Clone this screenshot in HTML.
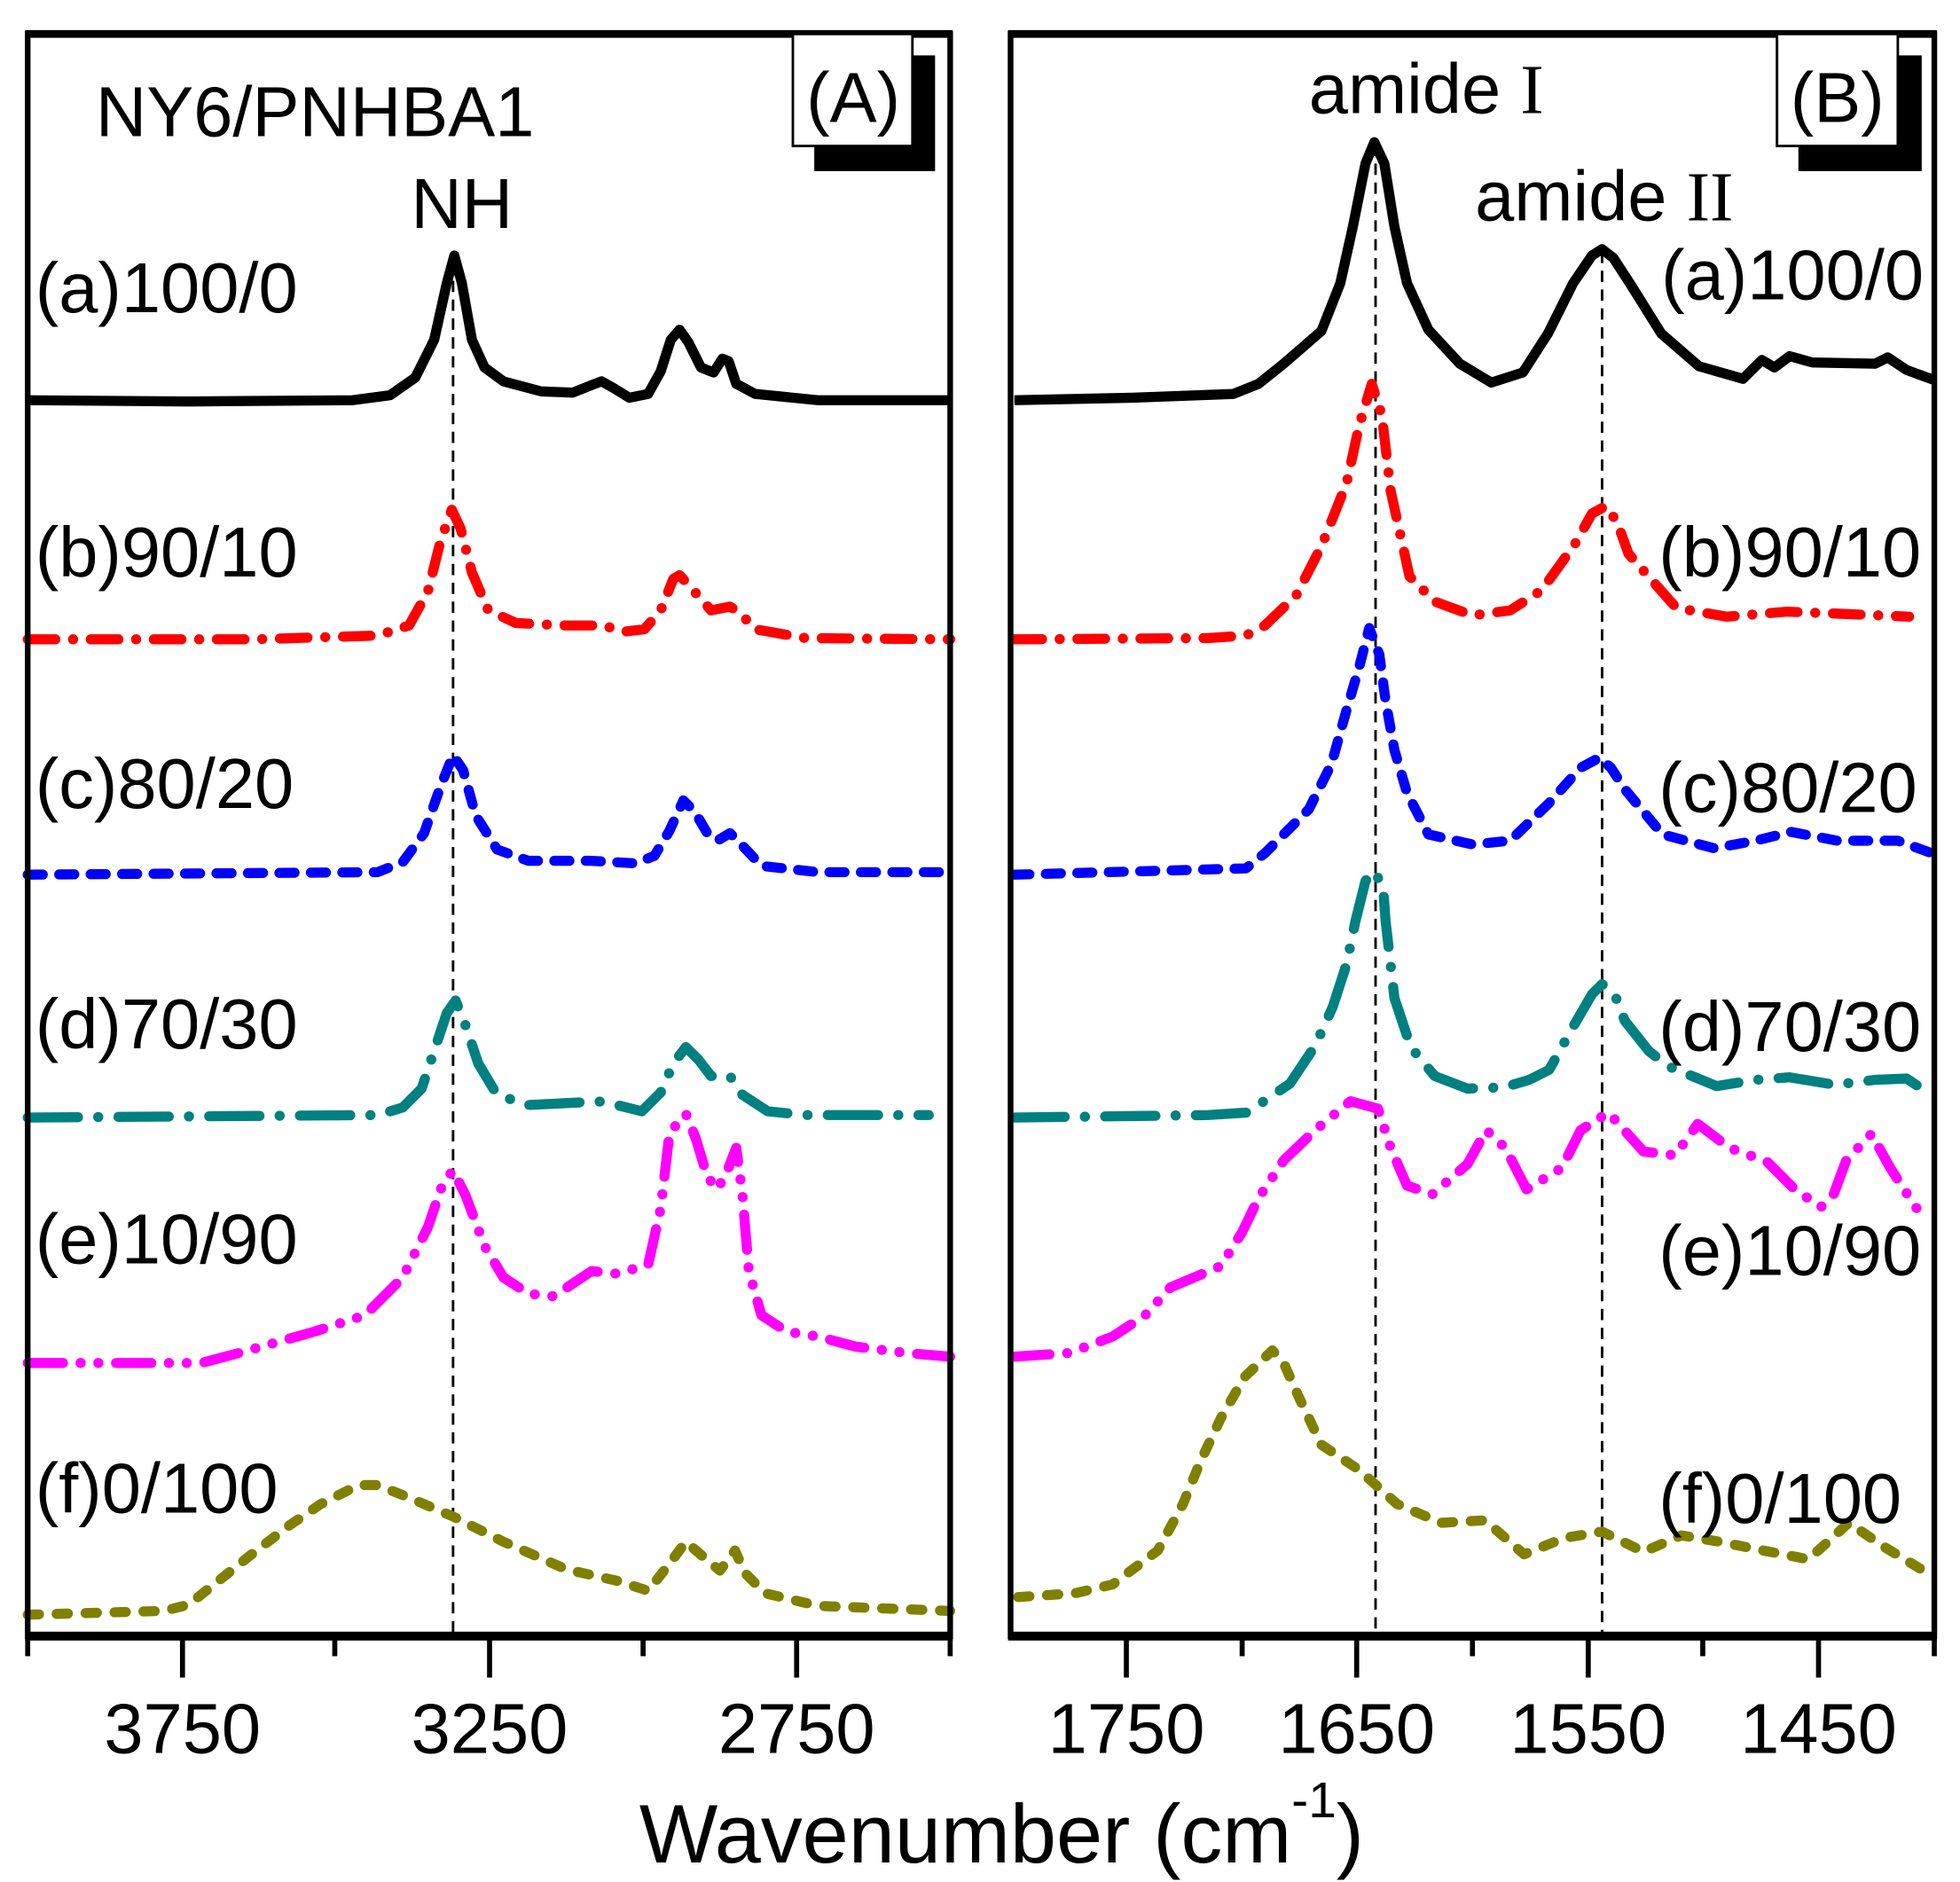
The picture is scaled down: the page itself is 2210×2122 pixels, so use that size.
<!DOCTYPE html>
<html><head><meta charset="utf-8"><style>
html,body{margin:0;padding:0;background:#fff;}
svg{display:block;}
text{font-family:"Liberation Sans",Arial,sans-serif;fill:#000;}
</style></head><body>
<svg width="2210" height="2122" viewBox="0 0 1557.4 1495.4" xmlns="http://www.w3.org/2000/svg">
<rect width="1557.4" height="1495.4" fill="#fff"/>
<g fill="none" stroke-linejoin="round" stroke-linecap="round">
<g stroke="#000" stroke-width="2" stroke-dasharray="9 6" stroke-linecap="butt">
<line x1="360" y1="208" x2="360" y2="1297"/>
<line x1="1093" y1="115" x2="1093" y2="1297"/>
<line x1="1273" y1="200" x2="1273" y2="1297"/>
</g>
<polyline stroke="#000" stroke-width="8" stroke-linecap="butt" points="22,318 150,319 280,318 310,314 330,300 345,270 355,225 361,203 367,225 375,270 385,292 400,303 430,311 455,312 470,306 478,303 487,308 500,316 515,313 525,295 533,270 540,262 547,272 557,292 567,296 574,285 579,287 585,305 600,313 650,318 755,318"/>
<polyline stroke="#ff0000" stroke-width="8" stroke-dasharray="22 14 0.1 14" points="22,508 200,508 300,505 325,497 340,470 350,430 359,405 366,420 375,455 388,485 410,495 450,497 480,497 495,502 512,500 525,485 535,460 540,457 550,468 565,485 580,482 588,487 600,500 640,507 755,508"/>
<polyline stroke="#0000ff" stroke-width="8" stroke-dasharray="12 13" points="22,695 300,693 320,685 337,662 350,625 360,600 368,612 378,648 395,675 420,684 470,684 505,686 520,680 532,660 543,636 552,645 562,662 570,668 580,662 590,672 605,688 650,693 755,693"/>
<polyline stroke="#008080" stroke-width="8" stroke-dasharray="40 16 0.1 16" points="22,888 300,886 320,880 335,865 345,835 355,805 362,795 370,815 380,845 395,870 420,878 460,876 475,875 490,878 510,883 525,868 535,845 545,832 555,842 565,855 580,855 590,870 610,883 640,886 738,886"/>
<polyline stroke="#ff00ff" stroke-width="8" stroke-dasharray="28 14 0.1 14 0.1 14" points="22,1083 160,1083 190,1075 250,1058 290,1045 320,1015 340,975 352,940 360,930 370,950 385,990 400,1015 420,1028 440,1030 455,1020 470,1010 490,1012 515,1005 525,960 532,900 545,885 553,905 562,935 570,945 578,930 585,912 590,950 595,1010 605,1045 625,1058 650,1062 680,1070 720,1075 755,1078"/>
<polyline stroke="#808000" stroke-width="8" stroke-dasharray="9 14" points="22,1283 130,1280 150,1275 175,1255 200,1235 230,1212 255,1195 285,1180 300,1180 325,1190 360,1205 400,1225 450,1247 490,1256 515,1264 530,1245 545,1225 560,1238 572,1248 584,1232 592,1250 608,1266 650,1276 755,1280"/>
<polyline stroke="#000" stroke-width="8" stroke-linecap="butt" points="806,318 900,316 980,313 1000,305 1020,289 1050,263 1065,225 1075,180 1085,130 1092,113 1100,130 1108,180 1118,225 1135,262 1160,289 1185,304 1210,296 1230,265 1250,225 1265,203 1273,198 1282,205 1295,225 1320,265 1350,291 1385,301 1400,286 1410,292 1422,283 1440,288 1490,289 1500,284 1515,294 1537,302"/>
<polyline stroke="#ff0000" stroke-width="8" stroke-dasharray="22 14 0.1 14" points="806,508 960,507 990,505 1005,497 1030,473 1050,434 1070,384 1080,338 1090,305 1098,330 1105,390 1120,458 1140,478 1170,489 1200,485 1225,469 1251,433 1265,408 1276,402 1285,415 1294,440 1332,483 1372,490 1420,486 1470,488 1517,490"/>
<polyline stroke="#0000ff" stroke-width="8" stroke-dasharray="12 13" points="806,695 990,690 1005,678 1040,643 1058,607 1070,564 1080,530 1088,499 1096,520 1101,557 1108,596 1118,630 1135,663 1170,671 1200,668 1231,638 1256,610 1271,602 1280,610 1291,627 1321,663 1362,674 1395,668 1423,661 1460,668 1508,668 1535,678"/>
<polyline stroke="#008080" stroke-width="8" stroke-dasharray="40 16 0.1 16" points="806,888 960,886 991,884 1025,861 1045,831 1059,800 1070,766 1077,732 1085,700 1092,692 1099,705 1101,732 1108,793 1121,832 1140,855 1166,865 1195,864 1215,858 1231,850 1251,814 1265,790 1273,782 1283,790 1291,811 1310,835 1325,847 1364,863 1395,858 1422,856 1458,862 1490,858 1515,857 1533,869"/>
<polyline stroke="#ff00ff" stroke-width="8" stroke-dasharray="28 14 0.1 14 0.1 14" points="806,1078 850,1075 884,1062 910,1045 930,1023 970,1006 987,979 1000,952 1020,922 1045,898 1073,875 1095,881 1105,912 1118,942 1138,949 1166,925 1181,898 1196,912 1213,945 1241,928 1256,898 1278,884 1306,915 1331,918 1349,893 1374,912 1404,923 1426,945 1447,959 1457,949 1467,922 1487,901 1502,928 1522,959 1530,968"/>
<polyline stroke="#808000" stroke-width="8" stroke-dasharray="9 14" points="809,1269 854,1266 884,1259 920,1232 940,1195 954,1161 970,1127 989,1094 1011,1073 1020,1083 1032,1110 1050,1148 1080,1168 1110,1195 1145,1210 1180,1208 1211,1235 1243,1222 1273,1217 1306,1233 1336,1220 1366,1225 1401,1232 1437,1239 1469,1210 1497,1229 1530,1249"/>
</g>
<g fill="none" stroke="#000">
<rect x="22" y="27" width="733" height="1273" stroke-width="4.5"/>
<rect x="803" y="27" width="734" height="1273" stroke-width="4.5"/>
<line x1="20" y1="1300" x2="757" y2="1300" stroke-width="7"/>
<line x1="801" y1="1300" x2="1539" y2="1300" stroke-width="7"/>
<line x1="20" y1="27" x2="757" y2="27" stroke-width="6"/>
<line x1="801" y1="27" x2="1539" y2="27" stroke-width="6"/>
<g stroke-width="4">
<line x1="22" y1="1300" x2="22" y2="1316"/><line x1="145" y1="1300" x2="145" y2="1333"/><line x1="266" y1="1300" x2="266" y2="1316"/><line x1="389" y1="1300" x2="389" y2="1333"/><line x1="511" y1="1300" x2="511" y2="1316"/><line x1="633" y1="1300" x2="633" y2="1333"/><line x1="755" y1="1300" x2="755" y2="1316"/>
<line x1="895" y1="1300" x2="895" y2="1333"/><line x1="987" y1="1300" x2="987" y2="1316"/><line x1="1078" y1="1300" x2="1078" y2="1333"/><line x1="1170" y1="1300" x2="1170" y2="1316"/><line x1="1262" y1="1300" x2="1262" y2="1333"/><line x1="1353" y1="1300" x2="1353" y2="1316"/><line x1="1445" y1="1300" x2="1445" y2="1333"/><line x1="1537" y1="1300" x2="1537" y2="1316"/>
</g>
</g>
<rect x="647" y="44" width="96" height="92" fill="#000"/>
<rect x="630" y="27" width="95" height="89" fill="#fff" stroke="#000" stroke-width="2"/>
<rect x="1429" y="44" width="98" height="92" fill="#000"/>
<rect x="1412" y="27" width="96" height="89" fill="#fff" stroke="#000" stroke-width="2"/>
<g font-size="56">
<text x="678" y="97" text-anchor="middle">(A)</text>
<text x="1460" y="97" text-anchor="middle">(B)</text>
<text x="76" y="108">NY6/PNHBA1</text>
<text x="367" y="181" text-anchor="middle">NH</text>
<text x="1040" y="90">amide <tspan font-family="Liberation Serif, serif">I</tspan></text>
<text x="1172" y="175">amide <tspan font-family="Liberation Serif, serif">II</tspan></text>
<text x="28" y="248">(a)100/0</text>
<text x="28" y="458">(b)90/10</text>
<text x="28" y="642">(c)80/20</text>
<text x="28" y="833">(d)70/30</text>
<text x="28" y="1004">(e)10/90</text>
<text x="28" y="1202">(f)0/100</text>
<text x="1320" y="238">(a)100/0</text>
<text x="1318" y="458">(b)90/10</text>
<text x="1318" y="645">(c)80/20</text>
<text x="1318" y="835">(d)70/30</text>
<text x="1318" y="1013">(e)10/90</text>
<text x="1318" y="1210">(f)0/100</text>
</g>
<g font-size="56" text-anchor="middle">
<text x="145" y="1393">3750</text><text x="389" y="1393">3250</text><text x="633" y="1393">2750</text>
<text x="895" y="1393">1750</text><text x="1078" y="1393">1650</text><text x="1262" y="1393">1550</text><text x="1445" y="1393">1450</text>
</g>
<text x="508" y="1480" font-size="66">Wavenumber (cm<tspan font-size="40" dy="-36">-1</tspan><tspan dy="36">)</tspan></text>
</svg>
</body></html>
